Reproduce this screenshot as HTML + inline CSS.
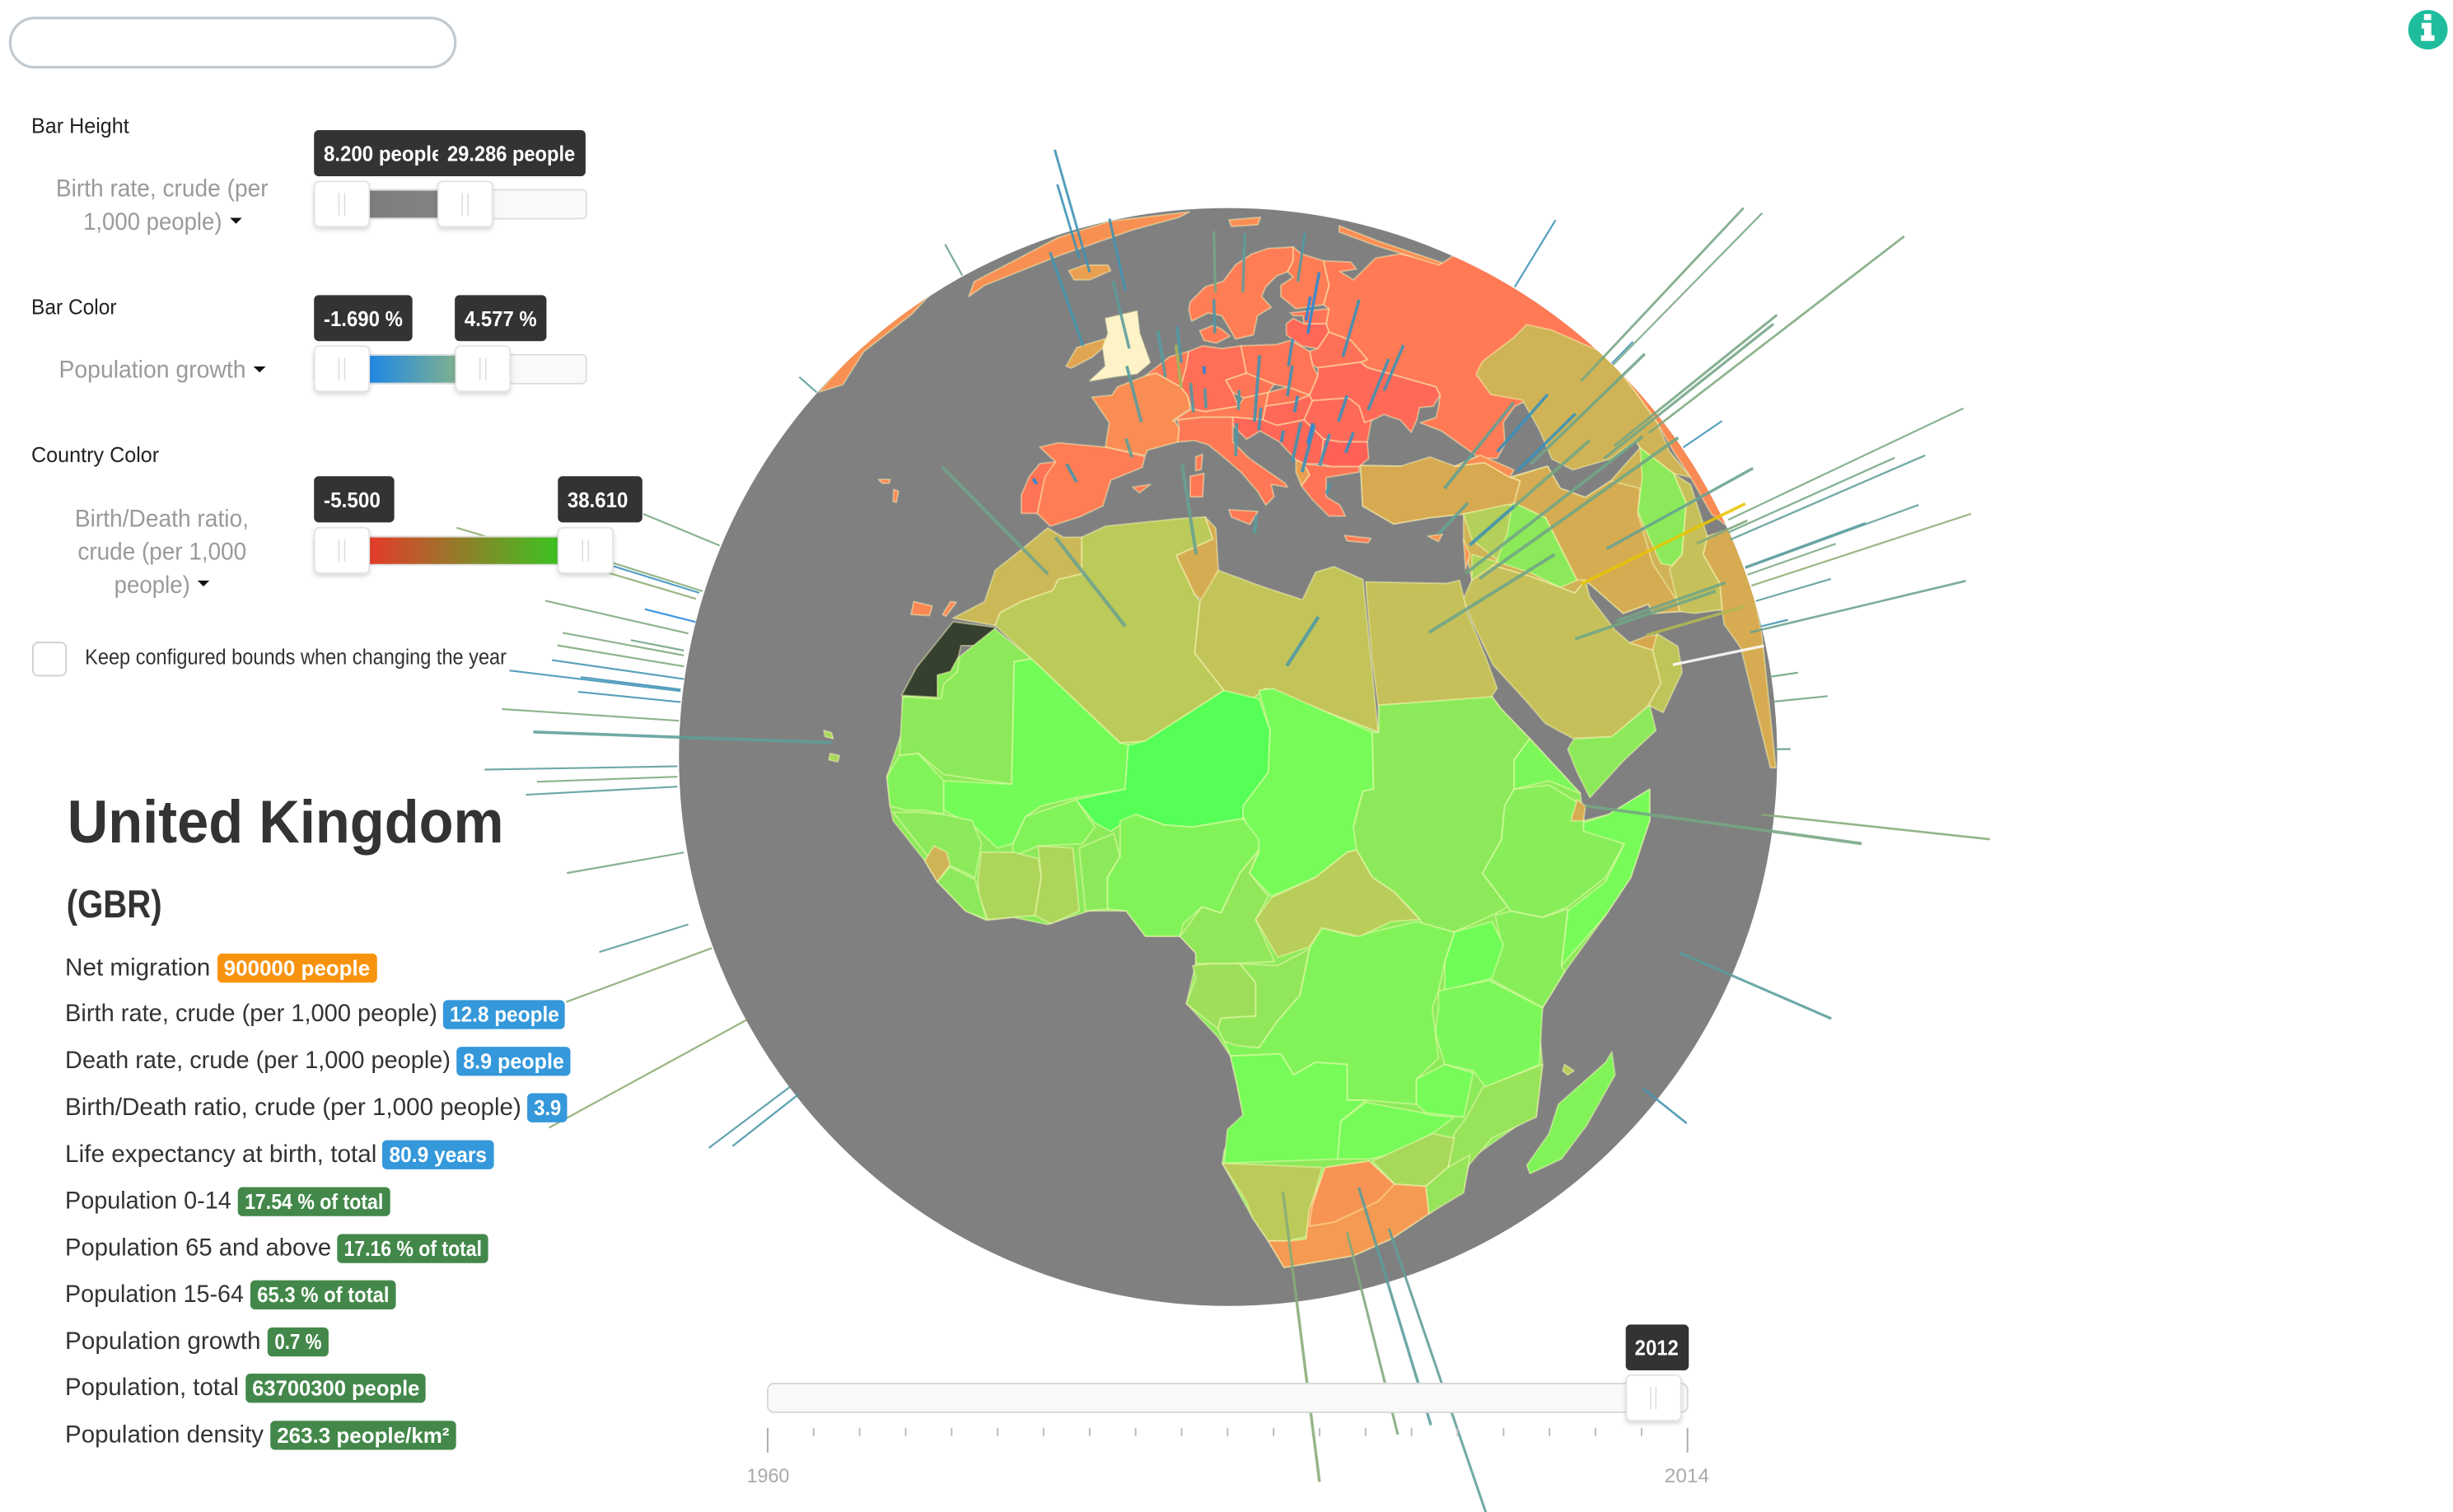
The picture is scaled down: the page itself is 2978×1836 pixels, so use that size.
<!DOCTYPE html>
<html lang="en">
<head>
<meta charset="utf-8">
<title>World indicators globe</title>
<style>
html,body{margin:0;padding:0;background:#fff;overflow:hidden;width:2978px;height:1836px}
svg{display:block}
text{font-family:"Liberation Sans",sans-serif}
.lbl{font-size:13.5px;fill:#222}
.sel{font-size:15.5px;fill:#9a9a9a}
.tip{font-size:13.5px;font-weight:bold;fill:#fff}
.row{font-size:15.5px;fill:#333}
.bdg{font-size:13.5px;font-weight:bold;fill:#fff}
.trk{fill:#f9f9f9;stroke:#dcdcdc;stroke-width:.9}
.hdl{fill:#fff;stroke:#e2e2e2;stroke-width:.9;filter:url(#handle-shadow)}
.grip{stroke:#dcdcdc;stroke-width:.8}
</style>
</head>
<body>
<svg xmlns="http://www.w3.org/2000/svg" width="2978" height="1836" viewBox="0 0 1568 966.74">
<defs>
<clipPath id="globe-clip"><circle cx="785" cy="484" r="351"/></clipPath>
<clipPath id="tip-clip-a"><rect x="200" y="83" width="80" height="30"/></clipPath>
<linearGradient id="grad-height" x1="0" x2="1"><stop offset="0" stop-color="#7c7c7c"/><stop offset="1" stop-color="#848484"/></linearGradient>
<linearGradient id="grad-bar" x1="0" x2="1"><stop offset="0" stop-color="#1e88e5"/><stop offset="1" stop-color="#7fb090"/></linearGradient>
<linearGradient id="grad-country" x1="0" x2="1"><stop offset="0" stop-color="#e53a2a"/><stop offset=".5" stop-color="#8f7f2a"/><stop offset="1" stop-color="#3cc320"/></linearGradient>
<filter id="handle-shadow" x="-30%" y="-30%" width="160%" height="170%"><feDropShadow dx="0" dy="1.5" stdDeviation="1.5" flood-color="#000" flood-opacity=".16"/></filter>
</defs>

<g id="globe">
<circle cx="785" cy="484" r="351" fill="#808080"/>
<g id="countries" clip-path="url(#globe-clip)"></g>
</g>
<g id="bars"></g>

<g>
<rect x="6.5" y="11.5" width="284.5" height="31.5" rx="15.7" fill="#fff" stroke="#c3cad0" stroke-width="1.7"/>
</g>

<g>
<circle cx="1552" cy="19" r="12.6" fill="#1fbd9d"/>
<rect x="1549.5" y="9" width="4.6" height="3.8" fill="#fff"/>
<path d="M1548 14.6h6.2v8h2v3.6h-8.6v-3.6h2v-4.4h-1.6z" fill="#fff"/>
</g>

<g>
<text class="lbl" x="20" y="85" textLength="62.5" lengthAdjust="spacingAndGlyphs">Bar Height</text>
<text class="sel" x="35.7" y="125.7" textLength="135.7" lengthAdjust="spacingAndGlyphs">Birth rate, crude (per</text>
<text class="sel" x="53.2" y="146.8" textLength="88.7" lengthAdjust="spacingAndGlyphs">1,000 people)</text>
<path d="M147 139.3h7.6l-3.8 3.8z" fill="#111"/>
<rect x="200.7" y="83.2" width="173.6" height="29.5" rx="3" fill="#333"/>
<text class="tip" x="206.9" y="103" textLength="76" lengthAdjust="spacingAndGlyphs" clip-path="url(#tip-clip-a)">8.200 people</text>
<text class="tip" x="285.9" y="103" textLength="81.7" lengthAdjust="spacingAndGlyphs">29.286 people</text>
<rect class="trk" x="200.7" y="121.3" width="174.1" height="18.5" rx="3"/>
<rect x="236" y="121.9" width="44" height="17.3" fill="url(#grad-height)"/>
<rect class="hdl" x="201" y="116" width="35" height="29" rx="3"/>
<path class="grip" d="M216.6 123.4v14.4M220.3 123.4v14.4"/>
<rect class="hdl" x="280" y="116" width="34.7" height="29" rx="3"/>
<path class="grip" d="M295.5 123.4v14.4M299.2 123.4v14.4"/>
</g>

<g>
<text class="lbl" x="20" y="200.8" textLength="54.5" lengthAdjust="spacingAndGlyphs">Bar Color</text>
<text class="sel" x="37.6" y="241.5" textLength="119.6" lengthAdjust="spacingAndGlyphs">Population growth</text>
<path d="M162 234.3h7.8l-3.9 3.8z" fill="#111"/>
<rect x="200.7" y="188.7" width="62.9" height="29.4" rx="3" fill="#333"/>
<text class="tip" x="206.9" y="208.6" textLength="50.5" lengthAdjust="spacingAndGlyphs">-1.690 %</text>
<rect x="290.7" y="188.7" width="58.6" height="29.4" rx="3" fill="#333"/>
<text class="tip" x="296.9" y="208.6" textLength="46.2" lengthAdjust="spacingAndGlyphs">4.577 %</text>
<rect class="trk" x="200.7" y="226.8" width="174.1" height="18.5" rx="3"/>
<rect x="236" y="227.4" width="55.3" height="17.3" fill="url(#grad-bar)"/>
<rect class="hdl" x="201" y="221.3" width="35" height="29" rx="3"/>
<path class="grip" d="M216.6 228.7v14.4M220.3 228.7v14.4"/>
<rect class="hdl" x="291.3" y="221.3" width="34.7" height="29" rx="3"/>
<path class="grip" d="M306.8 228.7v14.4M310.5 228.7v14.4"/>
</g>

<g>
<text class="lbl" x="20" y="295.5" textLength="81.7" lengthAdjust="spacingAndGlyphs">Country Color</text>
<text class="sel" x="47.8" y="336.6" textLength="111.2" lengthAdjust="spacingAndGlyphs">Birth/Death ratio,</text>
<text class="sel" x="49.7" y="357.7" textLength="107.8" lengthAdjust="spacingAndGlyphs">crude (per 1,000</text>
<text class="sel" x="73" y="379" textLength="48.5" lengthAdjust="spacingAndGlyphs">people)</text>
<path d="M126.3 371.2h7.5l-3.75 3.8z" fill="#111"/>
<rect x="200.7" y="304.5" width="51.3" height="29.5" rx="3" fill="#333"/>
<text class="tip" x="206.9" y="324.4" textLength="36.3" lengthAdjust="spacingAndGlyphs">-5.500</text>
<rect x="356.6" y="304.5" width="54" height="29.5" rx="3" fill="#333"/>
<text class="tip" x="362.7" y="324.4" textLength="38.7" lengthAdjust="spacingAndGlyphs">38.610</text>
<rect class="trk" x="200.7" y="343" width="190" height="18.1" rx="3"/>
<rect x="236" y="343.6" width="120.8" height="17" fill="url(#grad-country)"/>
<rect class="hdl" x="201" y="337.4" width="35" height="29" rx="3"/>
<path class="grip" d="M216.6 344.8v14.4M220.3 344.8v14.4"/>
<rect class="hdl" x="356.8" y="337.4" width="35" height="29" rx="3"/>
<path class="grip" d="M372.4 344.8v14.4M376.1 344.8v14.4"/>
</g>

<g>
<rect x="21" y="410.8" width="21.2" height="21.2" rx="3.5" fill="#fff" stroke="#cfcfcf" stroke-width="1"/>
<text x="54.3" y="424.7" font-size="13.8" fill="#333" textLength="269.5" lengthAdjust="spacingAndGlyphs">Keep configured bounds when changing the year</text>
</g>

<g>
<text x="43" y="538.7" font-size="38.5" font-weight="bold" fill="#333" textLength="279" lengthAdjust="spacingAndGlyphs">United Kingdom</text>
<text x="42.5" y="586.5" font-size="25" font-weight="bold" fill="#333" textLength="61" lengthAdjust="spacingAndGlyphs">(GBR)</text>

<text class="row" x="41.6" y="623.6" textLength="92.8" lengthAdjust="spacingAndGlyphs">Net migration</text>
<rect x="139" y="609.7" width="102" height="18.6" rx="3" fill="#f7930e"/>
<text class="bdg" x="143" y="623.6" textLength="93.5" lengthAdjust="spacingAndGlyphs">900000 people</text>

<text class="row" x="41.6" y="653" textLength="237.9" lengthAdjust="spacingAndGlyphs">Birth rate, crude (per 1,000 people)</text>
<rect x="283.2" y="639.4" width="77.8" height="18.6" rx="3" fill="#3498db"/>
<text class="bdg" x="287.5" y="653.3" textLength="69.9" lengthAdjust="spacingAndGlyphs">12.8 people</text>

<text class="row" x="41.6" y="683" textLength="246.4" lengthAdjust="spacingAndGlyphs">Death rate, crude (per 1,000 people)</text>
<rect x="291.8" y="669.3" width="72.8" height="18.6" rx="3" fill="#3498db"/>
<text class="bdg" x="296" y="683.2" textLength="64.6" lengthAdjust="spacingAndGlyphs">8.9 people</text>

<text class="row" x="41.6" y="713" textLength="291.6" lengthAdjust="spacingAndGlyphs">Birth/Death ratio, crude (per 1,000 people)</text>
<rect x="337" y="699" width="25.5" height="18.6" rx="3" fill="#3498db"/>
<text class="bdg" x="341.3" y="713" textLength="17.4" lengthAdjust="spacingAndGlyphs">3.9</text>

<text class="row" x="41.6" y="743" textLength="199.2" lengthAdjust="spacingAndGlyphs">Life expectancy at birth, total</text>
<rect x="244.3" y="729" width="71.4" height="18.6" rx="3" fill="#3498db"/>
<text class="bdg" x="248.8" y="743" textLength="62.4" lengthAdjust="spacingAndGlyphs">80.9 years</text>

<text class="row" x="41.6" y="772.7" textLength="106.2" lengthAdjust="spacingAndGlyphs">Population 0-14</text>
<rect x="152" y="759" width="97.4" height="18.6" rx="3" fill="#43884a"/>
<text class="bdg" x="156.4" y="772.9" textLength="88.6" lengthAdjust="spacingAndGlyphs">17.54 % of total</text>

<text class="row" x="41.6" y="802.6" textLength="170.1" lengthAdjust="spacingAndGlyphs">Population 65 and above</text>
<rect x="215.5" y="789" width="96.5" height="18.6" rx="3" fill="#43884a"/>
<text class="bdg" x="219.8" y="802.9" textLength="88.2" lengthAdjust="spacingAndGlyphs">17.16 % of total</text>

<text class="row" x="41.6" y="832.5" textLength="114.2" lengthAdjust="spacingAndGlyphs">Population 15-64</text>
<rect x="160" y="818.6" width="93" height="18.6" rx="3" fill="#43884a"/>
<text class="bdg" x="164.4" y="832.6" textLength="84.4" lengthAdjust="spacingAndGlyphs">65.3 % of total</text>

<text class="row" x="41.6" y="862.5" textLength="125" lengthAdjust="spacingAndGlyphs">Population growth</text>
<rect x="171" y="848.7" width="39" height="18.6" rx="3" fill="#43884a"/>
<text class="bdg" x="175.5" y="862.6" textLength="30.1" lengthAdjust="spacingAndGlyphs">0.7 %</text>

<text class="row" x="41.6" y="892" textLength="111" lengthAdjust="spacingAndGlyphs">Population, total</text>
<rect x="157" y="878.3" width="115" height="18.6" rx="3" fill="#43884a"/>
<text class="bdg" x="161.2" y="892.2" textLength="107" lengthAdjust="spacingAndGlyphs">63700300 people</text>

<text class="row" x="41.6" y="922.3" textLength="126.9" lengthAdjust="spacingAndGlyphs">Population density</text>
<rect x="172.8" y="908.4" width="118.7" height="18.6" rx="3" fill="#43884a"/>
<text class="bdg" x="177" y="922.4" textLength="110.2" lengthAdjust="spacingAndGlyphs">263.3 people/km²</text>
</g>

<g id="timeline">
<rect x="490.7" y="884.6" width="588" height="18.4" rx="4" fill="#f9f9f9" stroke="#d8d8d8" stroke-width="1"/>
<g id="year-ticks"></g>
<rect class="hdl" x="1039.6" y="879.3" width="34.9" height="29" rx="3"/>
<path class="grip" d="M1055.2 886.7v14.4M1058.5 886.7v14.4"/>
<rect x="1039.2" y="846.9" width="40.3" height="29.3" rx="3" fill="#333"/>
<text class="tip" x="1045" y="866.4" textLength="28" lengthAdjust="spacingAndGlyphs">2012</text>
<text x="477.3" y="947.8" font-size="12.5" fill="#aaa" textLength="27.3" lengthAdjust="spacingAndGlyphs">1960</text>
<text x="1064" y="947.8" font-size="12.5" fill="#aaa" textLength="28.6" lengthAdjust="spacingAndGlyphs">2014</text>
</g>
</svg>

<script>
// Bar data: location on the unit globe as seen from the view axis, birth rate (height), population growth (colour)
const barEast = [
-.252,-.271,-.187,-.264,-.180,-.484,-.749,-.023,.027,.127,
.145,.142,.209,-.024,-.114,-.085,-.085,-.043,-.063,-.040,
.019,.048,.056,.110,.108,.121,.201,.255,.284,.117,
.135,.145,.167,.214,.097,.014,-.158,-.175,-.276,-.348,
-.328,-.187,-.058,.048,.179,.107,
-.926,-.969,-.957,-.983,-.963,-.970,-.991,-.991,-.991,-.991,
-.997,-.997,-.997,-1,-.721,-1.003,-1.003,-1.003,-.991,-.983,
-.940,-.877,-.798,-.783,
.522,.643,.701,.766,.704,.685,.699,.551,.432,.458,
.490,.394,.527,.829,.442,.440,.689,.383,.911,.911,
.915,.643,.854,.366,.942,.942,.946,.953,.961,.951,
.971,.810,.632,.708,.762,.986,.995,.997,.651,.972,
.823,.756,
.100,.217,.238,.293];
const barNorth = [
.883,.909,.849,.749,.744,.877,.664,.846,.846,.866,
.771,.795,.729,.772,.692,.718,.672,.698,.628,.635,
.632,.611,.595,.712,.657,.628,.611,.632,.667,.538,
.519,.571,.531,.554,.573,.548,.610,.546,.501,.497,
.333,.238,.369,.407,.479,.166,
.385,.288,.302,.225,.299,.246,.185,.194,.165,.142,
.120,.123,.100,.066,.026,-.017,-.036,-.054,-.174,-.305,
-.348,-.479,-.601,-.615,
.856,.685,.714,.590,.567,.544,.717,.533,.334,.325,
.556,.489,.521,.564,.387,.386,.379,.406,.432,.409,
.396,.315,.389,.227,.344,.346,.332,.312,.284,.227,
.238,.168,.215,.248,.222,.146,.101,.014,-.089,-.105,
-.357,-.604,
-.793,-.866,-.784,-.859];
const birthRate = [
10.1,5.9,6.2,9.1,6.6,2.6,1.7,5.3,5.1,4.1,
5.8,2.2,5.7,3.2,4.9,3.7,4.7,.8,3.4,2.3,
2.3,7.9,2.8,2.8,3.4,1.9,3.1,5.9,5,5.3,
6.6,2.6,4.3,2.7,1.5,4.4,6.7,2.5,2.6,.8,
23.5,27.2,17.8,3.2,1.6,21.5,
6,18,7,10.6,6.5,3.8,8.9,3.9,9.3,9.7,
12.5,7.3,7.5,12.9,30.2,14,10.2,11,8.6,6.6,
11.3,16.4,7.4,6.1,
5.7,18.4,15.5,24.3,16.8,18,2.2,15.1,29.9,31.6,
7.5,12.8,8,3.4,19.6,7.3,15.5,5.6,18.8,13.3,
15.5,18.6,4.3,25,13.4,9.3,6.8,16.8,5.7,16.5,
2,8.2,16.2,11.2,9.4,2.1,3.9,1.1,30.9,17.1,
13.4,4.2,
26.6,17,22.1,24.5];
const popGrowth = [
.5,.4,.6,.7,1.5,2,1.6,2.6,1.6,1.2,
-.6,-1,.3,1,1.4,1,4.2,-1.2,1.2,1.2,
1.2,.6,.6,.4,.5,.3,.3,.5,.5,.6,
.3,-.5,.5,.2,.3,1.1,1.4,1.8,.8,-.6,
2.4,2.2,2,1.5,1,1.1,
2.8,3.5,3.2,3,.3,-.8,3,2.5,3,.7,
.5,.5,.6,3,1.6,1.6,3,1.5,2.6,1.6,
3.3,3.5,1.2,1,
.4,2.6,2.7,2.9,2.6,2.5,.6,2.4,2.5,2.5,
.3,1.8,.3,.5,2.6,.8,2,1.9,2.7,2.5,
1.7,5.5,3,2.4,1.7,1.4,2.8,3.5,1.6,2.2,
.6,9,2.5,2.5,4.5,2.5,2.5,2,2.6,3.2,
1.5,.7,
3.3,3,1.5,1.7];

// Choropleth data: birth/death ratio per country, in drawing order
const countryCodes = [
'AFR','ASI','RUS','GRL','GRL2','ISL','IRL','GBR',
'NOR','FIN','EST','LVA','BLR','DNK','BEL','FRA','DEU','POL','CZE','AUT','SVK','HUN','UKR','ROU','BGR','SRB','ALB','GRC','ITA','SIC','SAR','COR','BLC','ESP','PRT',
'CHN','IND','KAZ','TUR','CYP','CAU','IRN','AFG','PAK','IRQ','SYR','JOR','LBN','SAU','OMN','QAT','YEM',
'MAR','ESH','DZA','TUN','LBY','EGY','MRT','MLI','NER','TCD','SDN','ERI','ETH','DJI','SOM','KEN','UGA','TZA','MOZ','COD','ZMB','AGO','ZWE','BWA','NAM','ZAF','ZAF2','SWZ','MDG','SEN','GIN','BFA','SLE','CIV','GHA','LBR','BEN','NGA','CMR','CAF','GAB','COG',
'AZO','AZO2','CAN','CAN2','SJM','NZL','CRT','CPV','CPV2','MUS'];
const birthDeathRatio = [
29,14,0,3.5,3.5,7,8.5,9,
.5,.5,-1.5,-4,-2,0,-.3,3,-2.5,-1,-1,0,-1.5,-4,-3.5,-3.5,-5.5,-4,7,-1.5,-.5,-.5,-.5,-.5,-.5,.5,-1.5,
2.5,11,14,10.5,4,3,11.5,29,17,29,21,23,4,17,18,10,29,
15.5,NaN,19,11.5,17.5,17,29,33.5,38.6,33,29,32,30,11,33,30,34,32,27,31,33,33,33,24,19,5,4,27,31,31,29,31,14,23,23,29,29,31,28,20,26,28,
2,2,2,2,3,3,0,24,24,20];

// Country outlines: reference frame and points (map geometry, not data values)
const countryGeometry = {
AFR:['af','125,90 125,170 100,280 105,350 110,385 160,480 180,530 225,600 258,622 300,615 355,632 420,600 480,600 510,660 565,660 590,700 590,725 575,820 625,900 645,945 655,1010 665,1085 635,1170 632,1200 680,1330 705,1385 730,1448 840,1420 900,1380 960,1320 1015,1260 1025,1190 1110,1100 1130,1090 1140,965 1135,880 1140,830 1175,745 1240,610 1280,520 1310,385 1310,310 1245,370 1205,385 1200,320 1120,190 1075,120 1060,90 880,110 880,175 712,70 635,75 510,195 470,200 330,0 215,-5'],
ASI:['asia','-95,818 0,820 130,820 190,790 260,850 350,820 380,880 440,905 500,860 570,770 560,750 650,840 730,1010 765,1210 665,1215 600,1220 590,1195 530,1220 440,1130 415,1165 310,1120 220,1090 170,1130 150,1020 150,950 70,960 -16,977 -90,928'],
RUS:['disp','846,166.7 863.5,167.6 867,172 856.5,173.7 865.2,179 879.3,165 895,162.3 921.4,168.5 950,150 1120,260 1040,260 976,256 968,260 961,270 962,284 957,293 946,293 921.4,275.5 907.8,270.3 918,267 919.6,259.7 920.5,252.7 917.9,247.4 893.3,240.4 874,235 869.6,231.6 874,229.9 863.5,217.6 849.5,212.3 847.7,207 849.5,197.4 846,194.8 849.5,182.5'],
GRL:['eu','590,470 600,430 680,370 760,310 860,265 1010,240 990,255 900,290 830,325 760,360 690,400 620,440'],
GRL2:['eu','305,730 360,640 470,505 520,460 480,520 390,620 350,710'],
ISL:['eu','780,400 810,385 855,385 860,400 820,425 790,425'],
IRL:['eu','775,660 795,610 815,600 850,585 845,610 825,635 785,665'],
GBR:['eu','820,700 850,660 845,610 855,570 850,530 880,520 910,510 915,570 925,610 935,650 910,680 860,690'],
NOR:['eu2','285,260 340,205 405,185 450,125 510,85 570,65 660,60 660,110 640,150 600,165 560,205 545,240 580,280 530,310 515,380 450,395 430,360 400,310 350,300 290,330 280,290'],
FIN:['eu2','660,60 690,85 770,110 790,200 770,270 670,285 615,240 615,200 660,170 640,150 660,110'],
EST:['eu2','650,300 790,285 780,340 700,340 695,310 660,310'],
LVA:['eu2','635,340 660,320 700,340 780,340 790,370 750,430 690,420 635,380'],
BLR:['eu2','790,370 870,400 930,470 905,480 750,500 730,490 720,440 750,430'],
DNK:['eu2','320,365 370,345 400,360 430,385 380,410 335,400'],
BEL:['eu2','120,530 210,460 280,440 270,500 250,570 160,520'],
FRA:['eu2','-73,607 0,600 20,570 120,530 160,520 250,570 275,600 285,650 225,690 245,720 240,770 130,800 120,820 -24,789 -10,700'],
DEU:['eu2','280,440 330,420 400,430 470,420 480,470 490,520 415,545 440,590 460,640 340,660 290,650 275,600 250,570 270,500'],
POL:['eu2','470,420 600,415 650,400 720,440 730,490 750,530 720,600 640,570 590,560 490,520 480,470'],
CZE:['eu2','415,545 490,520 590,560 570,590 480,610 440,590'],
AUT:['eu2','220,695 290,650 340,660 460,640 480,610 570,590 560,640 550,690 440,680 330,680 240,690'],
SVK:['eu2','570,590 640,570 720,600 660,625 560,640'],
HUN:['eu2','560,640 660,625 720,600 730,620 700,690 600,710 550,690'],
UKR:['eu2','750,500 905,480 930,500 1040,530 1180,570 1195,600 1170,640 1120,645 1110,690 1090,735 1050,690 990,670 950,690 920,700 900,640 860,610 730,620 720,600 750,530'],
ROU:['eu2','730,620 860,610 900,640 920,700 945,690 930,770 830,770 770,760 700,690'],
BGR:['eu2','770,760 830,770 930,770 935,830 900,860 800,860 760,850'],
SRB:['eu2','440,680 550,690 600,710 700,690 770,760 760,850 700,850 670,835 610,770 540,730 490,760 440,710'],
ALB:['eu2','670,835 700,850 720,890 690,930 670,880'],
GRC:['eu2','700,850 800,860 900,860 900,880 780,900 780,970 830,1000 850,1040 790,1040 730,980 690,930 720,890'],
ITA:['eu2','245,720 240,690 330,680 440,680 440,710 440,770 500,830 630,920 640,935 580,925 590,970 560,1000 530,950 470,880 400,820 350,780 300,765 240,770'],
SIC:['eu','1085,1050 1140,1055 1125,1090 1090,1070'],
SAR:['eu2','285,895 335,885 330,970 285,970'],
COR:['eu2','305,825 330,815 325,870 305,875'],
BLC:['eu2','75,935 140,925 100,955'],
ESP:['eu','725,880 760,868 850,880 925,905 920,935 860,970 845,1040 800,1070 745,1095 720,1060 735,950 755,920'],
PRT:['eu','725,925 755,920 735,960 720,1060 690,1060 690,1010 705,960'],
CHN:['asia','480,510 520,560 560,620 610,700 650,780 690,850 740,950 785,990 1000,1000 1000,400'],
IND:['asia','730,1010 785,990 835,1130 860,1280 893,1640 880,1640 810,1315 795,1290 770,1250 765,1210 760,1140 720,1060'],
KAZ:['asia','195,535 270,470 300,435 360,450 440,490 480,510 520,560 560,620 610,700 640,780 690,850 650,840 570,770 560,750 500,800 410,830 360,800 330,720 290,640 215,625 180,570'],
TUR:['asia','-95,818 -90,928 -16,977 70,960 150,950 270,925 285,860 260,850 200,810 130,820 70,795 0,820'],
CYP:['asia','65,1010 100,1005 90,1025'],
CAU:['asia','190,790 270,830 260,850 200,810 130,820'],
IRN:['asia','265,850 350,820 380,880 440,905 500,860 570,880 565,950 600,1085 660,1190 665,1215 600,1220 590,1195 530,1220 440,1130 420,1130 345,960 270,920 285,860'],
AFG:['asia','570,770 650,840 680,920 670,1060 645,1090 620,1085 590,1010 565,945 575,850'],
PAK:['asia','650,840 690,870 730,1010 720,1060 760,1140 765,1210 700,1220 665,1215 640,1100 670,1060 680,920'],
IRQ:['asia','250,930 270,920 345,960 420,1130 380,1150 310,1110 230,1080'],
SYR:['asia','150,950 250,925 265,925 255,1000 230,1075 170,1020'],
JOR:['asia','170,1060 230,1080 220,1090 170,1140'],
LBN:['asia','150,1020 165,1060 155,1100'],
SAU:['asia','170,1130 220,1090 310,1120 415,1165 440,1130 450,1175 510,1265 545,1300 600,1320 620,1410 590,1470 505,1556 410,1560 345,1520 300,1460 220,1360 170,1240 150,1180'],
OMN:['asia','600,1290 610,1275 660,1310 670,1380 625,1490 590,1470 620,1410 600,1320'],
QAT:['asia','545,1300 590,1280 610,1280 600,1320'],
YEM:['af','1190,190 1250,185 1310,110 1320,170 1270,240 1215,330 1195,270 1180,215'],
MAR:['eu','560,1345 620,1300 640,1215 680,1170 740,1100 770,1125 805,1125 805,1225 760,1240 750,1270 690,1300 650,1330 640,1365'],
ESH:['eu','560,1355 640,1370 638,1420 575,1420 570,1450 555,1490 530,1500 530,1560 462,1555 490,1480'],
DZA:['eu','640,1365 650,1330 690,1300 750,1270 760,1240 805,1225 805,1125 850,1095 985,1075 1040,1070 1055,1130 985,1175 1020,1280 1030,1300 1020,1440 1076,1542 926,1680 878,1684 708,1455'],
TUN:['eu','985,1175 1055,1130 1040,1070 1060,1100 1065,1215 1035,1300 1020,1280'],
LBY:['eu','1030,1300 1065,1215 1150,1260 1225,1295 1250,1220 1285,1205 1340,1240 1369,1654 1154,1536 1130,1565 1076,1542 1020,1440'],
EGY:['disp','873,372 925,373 933,371 938,392 950,421 957,440 953,446 881,451 877,421'],
MRT:['af','125,90 186,95 190,60 212,30 215,-5 271,-72 330,0 302,7 298,298 190,275 150,225 120,230'],
MLI:['af','302,7 330,0 470,200 483,205 478,310 400,330 345,350 320,375 300,440 275,450 240,400 190,360 190,290 298,298'],
NER:['af','510,195 635,75 690,95 708,170 705,270 665,350 665,380 585,400 540,395 495,370 455,410 430,390 400,335 478,310 483,205'],
TCD:['af','690,75 712,70 870,175 872,310 855,315 840,400 855,450 830,460 780,520 710,565 675,510 690,460 665,375 665,350 705,270 708,170'],
SDN:['af','880,110 1060,90 1075,120 1120,190 1095,240 1095,310 1080,350 1075,430 1045,510 1085,590 1060,610 1000,650 950,630 940,610 905,555 870,520 845,455 840,400 855,315 872,310 870,175 880,175'],
ERI:['af','1120,190 1200,320 1150,290 1095,310 1095,240'],
ETH:['af','1095,310 1150,300 1205,350 1205,400 1270,440 1240,520 1180,590 1140,615 1090,600 1045,510 1075,430 1080,350'],
DJI:['af','1185,385 1195,335 1208,350 1205,385'],
SOM:['af','1205,390 1245,370 1310,310 1310,385 1280,520 1240,610 1170,730 1180,600 1240,530 1270,440 1205,410'],
KEN:['af','1065,610 1090,600 1140,615 1180,595 1170,730 1175,745 1140,830 1055,760 1075,680'],
UGA:['af','1000,650 1060,625 1078,680 1060,760 985,790 985,720'],
TZA:['af','975,790 1055,765 1140,830 1135,965 1050,1020 1030,980 985,965 970,890 975,830'],
MOZ:['af','1045,1020 1140,965 1130,1090 1060,1140 1020,1210 1015,1260 985,1255 1000,1130 1020,1090'],
COD:['af','770,690 790,640 840,660 940,625 1000,650 985,720 975,790 965,830 975,950 940,1000 940,1060 860,1050 830,1050 830,965 780,960 745,990 725,940 645,945 635,910 690,925 720,860 755,800'],
ZMB:['af','985,965 1030,985 1015,1090 955,1080 940,1060 940,1000'],
AGO:['af','645,945 725,940 745,990 780,960 830,965 830,1050 860,1050 820,1100 815,1190 635,1200 640,1120 665,1085 655,1010'],
ZWE:['af','820,1100 860,1055 950,1080 960,1085 1000,1090 965,1130 900,1180 865,1190 815,1190'],
BWA:['af','870,1195 965,1130 1000,1140 990,1210 955,1255 905,1250'],
NAM:['af','632,1200 790,1210 770,1320 765,1375 735,1385 705,1385 680,1330 670,1290'],
ZAF:['af','795,1210 865,1195 905,1250 955,1255 960,1320 900,1380 840,1420 730,1448 705,1385 740,1385 765,1380 770,1310'],
ZAF2:['af','795,1210 865,1195 905,1250 880,1290 810,1340 770,1350 775,1300'],
SWZ:['af','955,1255 990,1210 1025,1180 1020,1225 1015,1270 960,1320'],
MDG:['af','1250,935 1255,990 1210,1110 1170,1190 1120,1225 1115,1205 1150,1130 1165,1060 1240,960'],
SEN:['af','100,280 120,230 150,225 190,290 190,370 160,360 130,360 105,350'],
GIN:['af','110,365 150,365 190,370 235,385 250,440 240,520 205,495 165,470'],
BFA:['af','300,440 320,375 400,335 430,400 410,440 340,445 300,470'],
SLE:['af','160,480 175,445 195,460 200,490 180,530'],
CIV:['af','250,460 300,460 340,475 345,520 335,610 260,620 245,560 245,520'],
GHA:['af','340,445 395,450 405,600 360,630 335,610 345,520'],
LBR:['af','200,495 240,525 258,620 225,600 180,530'],
BEN:['af','405,450 460,415 470,470 450,520 450,595 415,600'],
NGA:['af','470,385 495,370 540,395 585,400 665,380 690,430 690,455 660,510 630,605 600,590 570,630 565,660 510,660 480,600 450,595 450,520 470,470'],
CMR:['af','690,455 675,510 705,565 685,620 715,720 650,725 590,725 590,700 565,660 600,590 630,605 660,510'],
CAF:['af','845,455 870,520 905,555 945,620 900,625 850,660 790,640 770,685 720,710 685,620 710,568 780,520 830,460'],
GAB:['af','585,730 615,725 660,725 685,770 685,850 630,855 625,880 575,820 590,760'],
COG:['af','660,725 720,730 770,690 755,800 720,860 690,925 655,920 635,910 625,880 630,855 685,850 685,770'],
AZO:['eu','418,968 440,968 438,978 425,978'],
AZO2:['eu','447,995 456,1000 452,1030 446,1028'],
CAN:['eu','485,1300 520,1312 515,1338 480,1335'],
CAN2:['eu','555,1300 566,1302 546,1340 540,1335'],
SJM:['eu','1085,262 1145,255 1140,275 1090,280'],
NZL:['eu','1295,278 1370,320 1490,378 1485,385 1365,332 1295,295'],
CRT:['eu','1305,1120 1355,1128 1350,1140 1310,1135'],
CPV:['af','0,170 12,175 15,190 2,185'],
CPV2:['af','10,225 25,230 22,245 8,240'],
MUS:['af','1175,965 1190,980 1180,990 1172,980']
};
const selectedCountry = 'GBR';
const noDataColor = '#36402f';
const selectedColor = '#fdf2c8';

// Year slider scale
const yearTickStart = 1960;
const yearTickEnd = 2014;
const yearTickCount = 20;

const ns = 'http://www.w3.org/2000/svg';
const globeCx = 785, globeCy = 484, globeR = 351, heightScale = 0.025;
const frames = {
  disp: '',
  eu: 'translate(421.2,79) scale(.3358,.2351)',
  eu2: 'translate(710.8,147.4) scale(.1755)',
  asia: 'translate(895.2,105.3) scale(.2687,.2351)',
  af: 'translate(526.6,421.3) scale(.403,.2687)'
};

function hexToRgb(h){return [1,3,5].map(function(i){return parseInt(h.substr(i,2),16);});}
function rampColor(stops, v){
  if(v<=stops[0][0])return stops[0][1];
  for(let i=1;i<stops.length;i++){
    if(v<=stops[i][0]){
      const t=(v-stops[i-1][0])/(stops[i][0]-stops[i-1][0]);
      const a=hexToRgb(stops[i-1][1]), b=hexToRgb(stops[i][1]);
      return 'rgb('+a.map(function(c,j){return Math.round(c+(b[j]-c)*t);}).join(',')+')';
    }
  }
  return stops[stops.length-1][1];
}
const countryRamp=[[-5.5,'#ff6058'],[0,'#ff7a55'],[5,'#f59a52'],[10,'#d8a850'],[15,'#cdb658'],[19,'#bcca5a'],[24,'#a8d85a'],[29,'#8cea5a'],[33,'#76fb58'],[38.6,'#55ff55']];
const barRamp=[[-1.69,'#1a80f0'],[0,'#2f8fc8'],[.5,'#3d92b4'],[1.5,'#5a9c9c'],[2.5,'#72a585'],[3.5,'#8cad72'],[4.5,'#b0b850'],[5.5,'#e8c400'],[7,'#f4f0d0'],[9,'#ffffff']];

const countriesLayer=document.getElementById('countries');
countryCodes.forEach(function(code,i){
  const geometry=countryGeometry[code];
  const shape=document.createElementNS(ns,'polygon');
  shape.setAttribute('points',geometry[1]);
  if(frames[geometry[0]])shape.setAttribute('transform',frames[geometry[0]]);
  const v=birthDeathRatio[i];
  shape.setAttribute('fill',code===selectedCountry?selectedColor:(isNaN(v)?noDataColor:rampColor(countryRamp,v)));
  shape.setAttribute('stroke','rgba(255,255,190,.42)');
  shape.setAttribute('stroke-width','2');
  shape.setAttribute('stroke-linejoin','round');
  shape.setAttribute('vector-effect','non-scaling-stroke');
  
  
  countriesLayer.appendChild(shape);
});

function globeX(east,alt){return globeCx+globeR*east*alt;}
function globeY(north,alt){return globeCy-globeR*north*alt;}
function altitude(value){return 1+heightScale*value;}
function barWidth(east,north){return 1.15+1.1*Math.sqrt(Math.max(0,1-east*east-north*north));}

const barsLayer=document.getElementById('bars');
barEast.forEach(function(east,i){
  const bar=document.createElementNS(ns,'line');
  bar.setAttribute('x1',globeX(east,1));
  bar.setAttribute('y1',globeY(barNorth[i],1));
  bar.setAttribute('x2',globeX(east,altitude(birthRate[i])));
  bar.setAttribute('y2',globeY(barNorth[i],altitude(birthRate[i])));
  bar.setAttribute('stroke',rampColor(barRamp,popGrowth[i]));
  bar.setAttribute('stroke-opacity','.88');
  bar.setAttribute('stroke-width',barWidth(east,barNorth[i]));
  
  
  barsLayer.appendChild(bar);
});

function yearX(year){return 490.7+(year-yearTickStart)/(yearTickEnd-yearTickStart)*588;}
const ticksLayer=document.getElementById('year-ticks');
for(let i=0;i<=yearTickCount;i++){
  const year=yearTickStart+(yearTickEnd-yearTickStart)*i/yearTickCount;
  const major=(i===0||i===yearTickCount);
  const tick=document.createElementNS(ns,'line');
  tick.setAttribute('x1',yearX(year));
  tick.setAttribute('x2',yearX(year));
  tick.setAttribute('y1',913);
  tick.setAttribute('y2',major?928.8:918.3);
  tick.setAttribute('stroke',major?'#aaa':'#bbb');
  tick.setAttribute('stroke-width','1');
  
  
  ticksLayer.appendChild(tick);
}
</script>
</body>
</html>
